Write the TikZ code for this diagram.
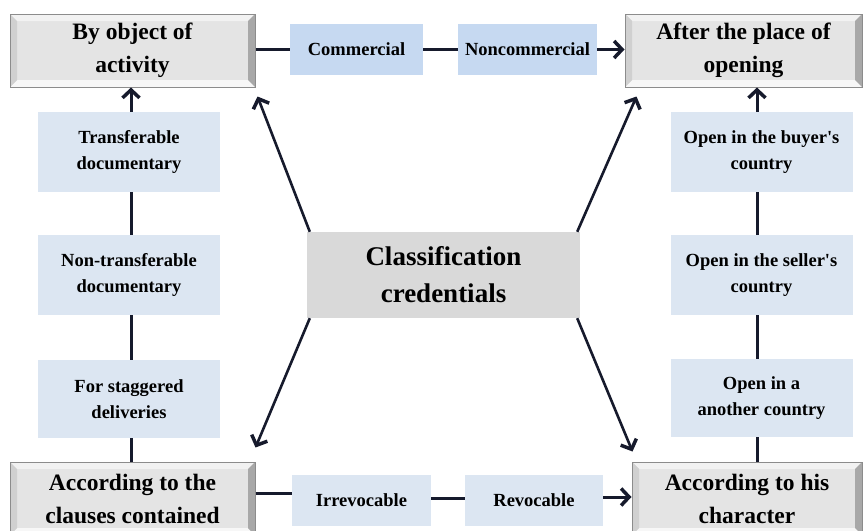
\documentclass[tikz,border=0pt]{standalone}
\usepackage{fontspec}
\setmainfont{Liberation Serif}
\usetikzlibrary{arrows.meta,calc}
\definecolor{bvface}{HTML}{E4E4E4}
\definecolor{bvtop}{HTML}{F2F2F2}
\definecolor{bvleft}{HTML}{D0D0D0}
\definecolor{bvright}{HTML}{A8A8A8}
\definecolor{bvbot}{HTML}{F7F7F7}
\definecolor{bvline}{HTML}{8C8C8C}
\definecolor{lblue}{HTML}{DCE6F2}
\definecolor{mblue}{HTML}{C6D9F1}
\definecolor{cgray}{HTML}{D9D9D9}
\definecolor{conn}{HTML}{161A2C}
\tikzset{
  bevel/.style={draw=bvline, line width=1pt, fill=bvface, minimum height=73pt,
    inner sep=0pt, align=center, font=\fontsize{23.5}{33}\selectfont\bfseries,
    path picture={
      \fill[bvtop] (path picture bounding box.north west) -- (path picture bounding box.north east)
        -- ([shift={(-7pt,-7pt)}]path picture bounding box.north east)
        -- ([shift={(7pt,-7pt)}]path picture bounding box.north west) -- cycle;
      \fill[bvbot] (path picture bounding box.south west) -- (path picture bounding box.south east)
        -- ([shift={(-7pt,7pt)}]path picture bounding box.south east)
        -- ([shift={(7pt,7pt)}]path picture bounding box.south west) -- cycle;
      \fill[bvleft] (path picture bounding box.north west) -- (path picture bounding box.south west)
        -- ([shift={(7pt,7pt)}]path picture bounding box.south west)
        -- ([shift={(7pt,-7pt)}]path picture bounding box.north west) -- cycle;
      \fill[bvright] (path picture bounding box.north east) -- (path picture bounding box.south east)
        -- ([shift={(-7pt,7pt)}]path picture bounding box.south east)
        -- ([shift={(-7pt,-7pt)}]path picture bounding box.north east) -- cycle;
    }},
  sbox/.style={fill=lblue, minimum width=182pt, inner sep=0pt, align=center,
    font=\fontsize{18.5}{26}\selectfont\bfseries},
  hbox/.style={sbox, minimum height=51pt},
  conline/.style={draw=conn, line width=3pt},
  conarrow/.style={conline, -{Straight Barb[length=8pt,width=17pt,line width=3.5pt]}},
}
\begin{document}
\begin{tikzpicture}[x=1pt,y=-1pt]
\useasboundingbox (0,0) rectangle (864,530);
\clip (0,0) rectangle (864,530);
\fill[white] (0,0) rectangle (864,530);

% main boxes
\node[bevel, minimum width=245pt] (tl) at (132.5,50.5) {By object of\\activity};
\node[bevel, minimum width=237pt] (tr) at (743.5,50.5) {After the place of\\opening};
\node[bevel, minimum width=245pt] (bl) at (132.5,498.5) {According to the\\clauses contained};
\node[bevel, minimum width=230pt] (br) at (747,498.5) {According to his\\character};

% center
\node[fill=cgray, minimum width=273pt, minimum height=86pt, align=center, inner sep=0pt,
  font=\fontsize{27}{37}\selectfont\bfseries] (cc) at (443.5,275) {Classification\\credentials};

% top row
\node[hbox, fill=mblue, minimum width=133pt] (c1) at (356.5,49.5) {Commercial};
\node[hbox, fill=mblue, minimum width=139pt] (c2) at (527.5,49.5) {Noncommercial};
% bottom row
\node[hbox, minimum width=139pt] (i1) at (361.5,500) {Irrevocable};
\node[hbox, minimum width=138pt] (i2) at (534,500) {Revocable};

% left column
\node[sbox, minimum height=80pt] (l1) at (129,152) {Transferable\\documentary};
\node[sbox, minimum height=80pt] (l2) at (129,275) {Non-transferable\\documentary};
\node[sbox, minimum height=78pt] (l3) at (129,399) {For staggered\\deliveries};
% right column
\node[sbox, minimum height=80pt] (r1) at (761.5,152) {Open in the buyer\textquotesingle s\\country};
\node[sbox, minimum height=80pt] (r2) at (761.5,275) {Open in the seller\textquotesingle s\\country};
\node[sbox, minimum height=78pt] (r3) at (761.5,398) {Open in a\\another country};

% top connectors
\draw[conline] (tl.east |- c1) -- (c1.west);
\draw[conline] (c1.east) -- (c2.west);
\draw[conarrow] (c2.east) -- (tr.west |- c2);
% bottom connectors
\draw[conline] ($(bl.east |- i1)+(0,-7)$) -- ($(i1.west)+(0,-7)$);
\draw[conline] ($(i1.east)+(0,-2)$) -- ($(i2.west)+(0,-2)$);
\draw[conarrow] ($(i2.east)+(0,-3)$) -- ($(br.west |- i2)+(0,-3)$);

% left column connectors
\draw[conarrow] ([xshift=2pt]l1.north) -- ([xshift=2pt]l1.north |- tl.south);
\draw[conline] ([xshift=2pt]l1.south) -- ([xshift=2pt]l2.north);
\draw[conline] ([xshift=2pt]l2.south) -- ([xshift=2pt]l3.north);
\draw[conline] ([xshift=2pt]l3.south) -- ([xshift=2pt]l3.south |- bl.north);
% right column connectors
\draw[conarrow] ([xshift=-4.5pt]r1.north) -- ([xshift=-4.5pt]r1.north |- tr.south);
\draw[conline] ([xshift=-4.5pt]r1.south) -- ([xshift=-4.5pt]r2.north);
\draw[conline] ([xshift=-4.5pt]r2.south) -- ([xshift=-4.5pt]r3.north);
\draw[conline] ([xshift=-4.5pt]r3.south) -- ([xshift=-4.5pt]r3.south |- br.north);

% diagonal arrows
\coordinate (dtl) at ($(tl.south east)+(2,9)$);
\coordinate (dtr) at ($(tr.south west)+(12,9)$);
\coordinate (dbl) at ($(bl.north east)+(0,-14)$);
\coordinate (dbr) at ($(br.north west)+(1,-10)$);
\draw[conarrow, line width=2.6pt] ($(cc.north west)+(3,0)$) -- (dtl);
\draw[conarrow, line width=2.6pt] ($(cc.north east)+(-3,0)$) -- (dtr);
\draw[conarrow, line width=2.6pt] ($(cc.south west)+(3,0)$) -- (dbl);
\draw[conarrow, line width=2.6pt] ($(cc.south east)+(-3,0)$) -- (dbr);
\end{tikzpicture}
\end{document}
